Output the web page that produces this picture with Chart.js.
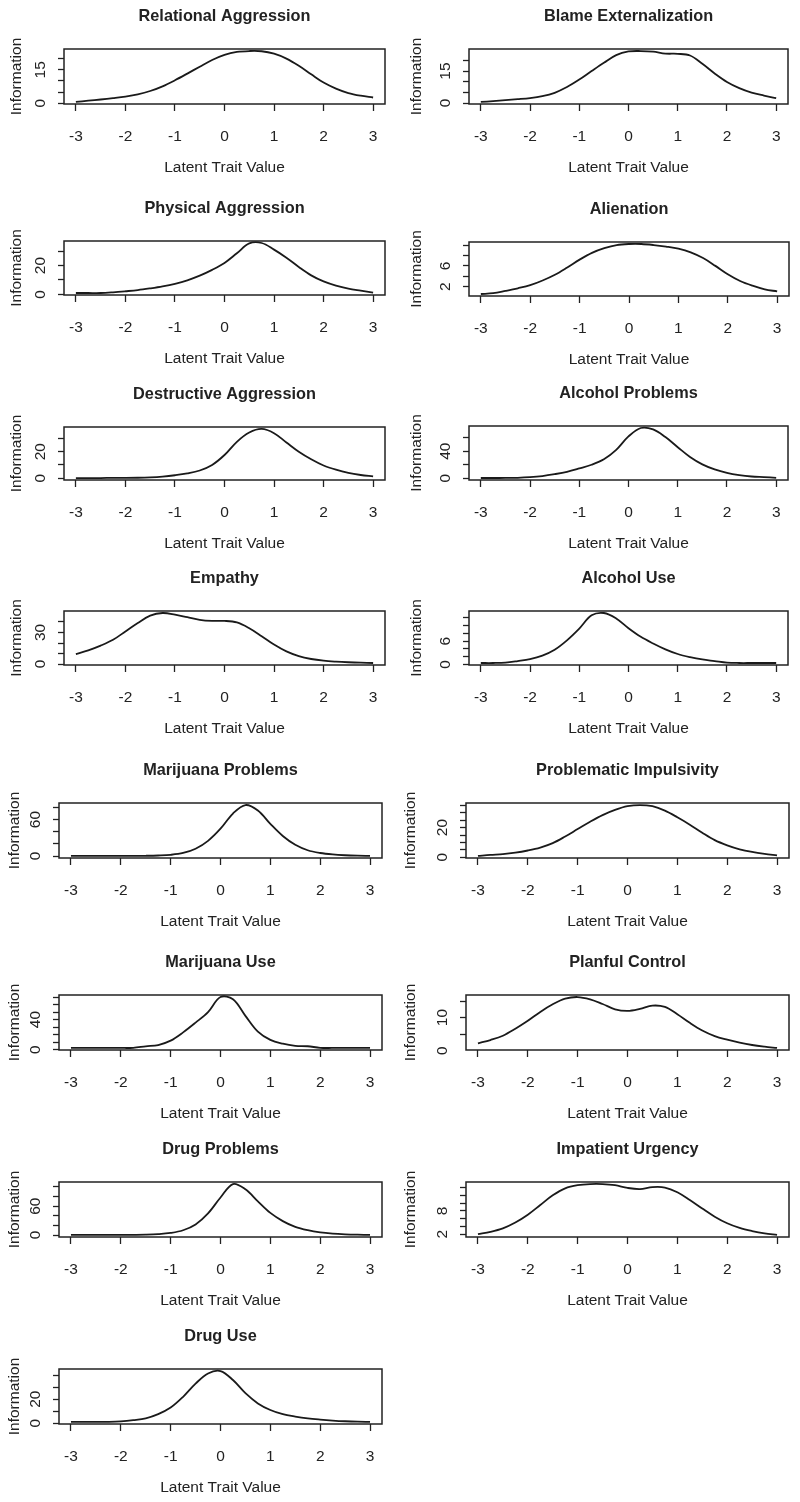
<!DOCTYPE html>
<html>
<head>
<meta charset="utf-8">
<script src="https://cdn.jsdelivr.net/npm/chart.js@4.4.1/dist/chart.umd.min.js"></script>
<style>
  body { margin: 0; background: #fff; }
  #page { position: relative; width: 800px; height: 1502px; overflow: hidden; background: #fff; }
  #page canvas { position: absolute; }
</style>
</head>
<body>
<div id="page"></div>
<script>
// latent trait grid (x) and x tick labels
const traitValues = [-3, -2.75, -2.5, -2.25, -2, -1.75, -1.5, -1.25, -1, -0.75, -0.5, -0.25, 0,
  0.25, 0.5, 0.75, 1, 1.25, 1.5, 1.75, 2, 2.25, 2.5, 2.75, 3];
const xTickValues = [-3, -2, -1, 0, 1, 2, 3];

const panelTitles = ['Relational Aggression', 'Blame Externalization', 'Physical Aggression', 'Alienation',
  'Destructive Aggression', 'Alcohol Problems', 'Empathy', 'Alcohol Use', 'Marijuana Problems',
  'Problematic Impulsivity', 'Marijuana Use', 'Planful Control', 'Drug Problems', 'Impatient Urgency', 'Drug Use'];

// information values
const relationalAggression = [0.6, 1.2, 1.7, 2.3, 3.0, 4.0, 5.5, 7.6, 10.3, 13.3, 16.4, 19.4, 21.7, 23.0, 23.4, 23.3, 22.2, 20.0, 16.8, 13.0, 9.3, 6.6, 4.6, 3.4, 2.6];
const blameExternalization = [0.5, 0.9, 1.4, 1.8, 2.3, 3.2, 4.8, 7.5, 11.0, 15.0, 18.9, 22.5, 24.2, 24.4, 24.1, 23.2, 23.1, 22.3, 18.4, 13.9, 9.9, 7.0, 4.9, 3.5, 2.3];
const physicalAggression = [1.0, 1.0, 1.0, 1.5, 2.2, 3.0, 4.2, 5.6, 7.4, 9.8, 13.0, 17.0, 21.8, 28.5, 35.3, 35.6, 31.0, 25.4, 19.0, 13.2, 9.0, 6.1, 4.0, 2.6, 1.3];
const alienation = [0.6, 0.75, 1.2, 1.7, 2.3, 3.2, 4.3, 5.7, 7.2, 8.5, 9.4, 10.0, 10.2, 10.2, 10.0, 9.7, 9.3, 8.6, 7.5, 6.0, 4.4, 3.1, 2.2, 1.5, 1.1];
const destructiveAggression = [0.1, 0.1, 0.1, 0.2, 0.2, 0.3, 0.6, 1.2, 2.2, 3.6, 5.8, 10.0, 17.5, 27.5, 34.5, 37.2, 34.0, 27.0, 20.0, 14.3, 9.6, 6.4, 4.0, 2.4, 1.3];
const alcoholProblems = [0.3, 0.3, 0.4, 0.6, 1.5, 3.2, 6.0, 9.5, 14.5, 20.0, 28.0, 42.0, 62.0, 74.5, 72.5, 61.0, 46.0, 31.5, 20.5, 13.0, 7.8, 4.5, 2.5, 1.6, 0.6];
const empathy = [9.5, 13.0, 17.5, 23.0, 31.0, 39.0, 46.0, 48.5, 47.0, 44.5, 42.0, 41.0, 41.0, 39.5, 34.0, 26.5, 18.5, 12.0, 7.5, 4.8, 3.2, 2.3, 1.7, 1.3, 1.0];
const alcoholUse = [0.4, 0.4, 0.5, 0.9, 1.4, 2.3, 3.8, 6.2, 9.2, 12.6, 13.2, 11.8, 9.3, 7.1, 5.4, 3.9, 2.7, 1.9, 1.3, 0.9, 0.5, 0.4, 0.4, 0.4, 0.4];
const marijuanaProblems = [0.1, 0.1, 0.1, 0.1, 0.1, 0.2, 0.4, 0.9, 2.0, 5.0, 12.0, 25.0, 45.0, 70.0, 84.0, 75.0, 53.0, 33.0, 18.5, 9.5, 5.0, 2.6, 1.3, 0.6, 0.3];
const problematicImpulsivity = [0.8, 1.5, 2.0, 3.0, 4.5, 6.5, 9.5, 14.0, 19.0, 24.0, 28.5, 32.0, 34.5, 35.3, 34.5, 31.5, 27.0, 22.0, 16.5, 11.5, 8.0, 5.3, 3.5, 2.2, 1.2];
const marijuanaUse = [2.3, 2.3, 2.3, 2.3, 2.3, 2.5, 4.5, 6.2, 12.0, 23.0, 36.0, 50.0, 70.0, 67.0, 45.0, 24.0, 13.0, 8.0, 5.2, 4.6, 2.5, 2.3, 2.3, 2.3, 2.3];
const planfulControl = [2.2, 3.2, 4.5, 6.6, 9.0, 11.7, 14.0, 15.7, 16.2, 15.5, 14.1, 12.5, 12.0, 12.6, 13.6, 13.2, 11.0, 8.4, 6.1, 4.4, 3.3, 2.4, 1.7, 1.2, 0.8];
const drugProblems = [0.2, 0.2, 0.2, 0.3, 0.3, 0.5, 0.9, 2.0, 4.5, 10.0, 22.0, 45.0, 78.0, 106.0, 95.0, 70.0, 46.0, 29.0, 17.0, 10.0, 5.5, 3.0, 1.6, 0.8, 0.4];
const impatientUrgency = [2.0, 2.6, 3.5, 5.0, 7.0, 9.5, 12.0, 13.8, 14.6, 14.9, 14.9, 14.6, 13.9, 13.6, 14.1, 14.0, 12.8, 10.8, 8.6, 6.5, 4.8, 3.6, 2.8, 2.2, 1.8];
const drugUse = [1.0, 1.0, 1.0, 1.1, 1.5, 2.5, 4.0, 7.5, 13.0, 22.0, 33.0, 41.5, 43.5, 36.0, 25.0, 16.5, 11.0, 7.5, 5.5, 4.0, 3.0, 2.2, 1.6, 1.2, 1.0];

const panelSeries = [relationalAggression, blameExternalization, physicalAggression, alienation,
  destructiveAggression, alcoholProblems, empathy, alcoholUse, marijuanaProblems,
  problematicImpulsivity, marijuanaUse, planfulControl, drugProblems, impatientUrgency, drugUse];

// y tick marks, and the ones R kept a label for
const yTickValues = [
  [0, 5, 10, 15, 20], [0, 5, 10, 15, 20], [0, 10, 20, 30], [2, 4, 6, 8, 10],
  [0, 10, 20, 30], [0, 20, 40, 60], [0, 10, 20, 30, 40], [0, 2, 4, 6, 8, 10, 12],
  [0, 20, 40, 60, 80], [0, 5, 10, 15, 20, 25, 30, 35], [0, 10, 20, 30, 40, 50, 60, 70], [0, 5, 10, 15],
  [0, 20, 40, 60, 80, 100], [2, 4, 6, 8, 10, 12, 14], [0, 10, 20, 30, 40]
];
const yTickLabels = [
  [0, 15], [0, 15], [0, 20], [2, 6], [0, 20], [0, 40], [0, 30], [0, 6],
  [0, 60], [0, 20], [0, 40], [0, 10], [0, 60], [2, 8], [0, 20]
];

// plot boxes on the page: left, top, right, bottom ; and x of the "Information" label
const plotBoxes = [
  [64, 49, 385, 104], [469, 49, 788, 104],
  [64, 241, 385, 295], [469, 242, 789, 296],
  [64, 427, 385, 480], [469, 426, 788, 480],
  [64, 611, 385, 665], [469, 611, 788, 665],
  [59, 803, 382, 858], [466, 803, 789, 858],
  [59, 995, 382, 1050], [466, 995, 789, 1050],
  [59, 1182, 382, 1237], [466, 1182, 789, 1237],
  [59, 1369, 382, 1424]
];
const infoLabelX = [16, 416, 16, 416, 16, 416, 16, 416, 14, 410, 14, 410, 14, 410, 14];

const FONT = "'Liberation Sans', Arial, Helvetica, sans-serif";
const INK = '#222';
const TOP_SPACE = 48;
const BOTTOM_SPACE = 73;

function rStyleFrame(title, labels) {
  return {
    id: 'rStyleFrame',
    afterDraw(chart) {
      const { ctx, chartArea: a } = chart;
      ctx.save();
      ctx.strokeStyle = INK;
      ctx.lineWidth = 1.5;
      ctx.strokeRect(a.left, a.top, a.right - a.left, a.bottom - a.top);

      ctx.fillStyle = INK;
      ctx.textAlign = 'center';
      ctx.textBaseline = 'middle';
      ctx.font = 'bold 16.3px ' + FONT;
      ctx.fillText(title, (a.left + a.right) / 2, a.top - 32);

      // y labels are drawn parallel to the axis, like R
      ctx.font = '15.5px ' + FONT;
      const ys = chart.scales.y;
      labels.forEach(v => {
        ctx.save();
        ctx.translate(a.left - 23, ys.getPixelForValue(v));
        ctx.rotate(-Math.PI / 2);
        ctx.fillText(String(v), 0, 0);
        ctx.restore();
      });
      ctx.restore();
    }
  };
}

const page = document.getElementById('page');
const xSpan = traitValues[traitValues.length - 1] - traitValues[0];
const xMin = traitValues[0] - 0.04 * xSpan;
const xMax = traitValues[traitValues.length - 1] + 0.04 * xSpan;

plotBoxes.forEach((box, i) => {
  const [left, top, right, bottom] = box;
  const col = left < 400 ? 0 : 400;
  const w = 400;
  const h = TOP_SPACE + (bottom - top) + BOTTOM_SPACE;
  const canvas = document.createElement('canvas');
  canvas.width = w;
  canvas.height = h;
  canvas.style.left = col + 'px';
  canvas.style.top = (top - TOP_SPACE) + 'px';
  canvas.style.width = w + 'px';
  canvas.style.height = h + 'px';
  page.appendChild(canvas);

  const values = panelSeries[i];
  const lo = Math.min(...values);
  const hi = Math.max(...values);
  const pad = 0.04 * (hi - lo);
  const yMin = lo - pad;
  const yMax = hi + pad;

  new Chart(canvas, {
    type: 'line',
    data: {
      datasets: [{
        data: traitValues.map((x, k) => ({ x: x, y: values[k] })),
        borderColor: '#1a1a1a',
        borderWidth: 1.8,
        pointRadius: 0,
        fill: false,
        tension: 0.35
      }]
    },
    options: {
      responsive: false,
      animation: false,
      devicePixelRatio: 1,
      layout: { padding: { left: 0, right: col + w - right, top: TOP_SPACE, bottom: 0 } },
      plugins: {
        legend: { display: false },
        tooltip: { enabled: false },
        title: { display: false }
      },
      scales: {
        x: {
          type: 'linear',
          min: xMin,
          max: xMax,
          afterBuildTicks: s => { s.ticks = xTickValues.map(v => ({ value: v })); },
          afterFit: s => { s.height = BOTTOM_SPACE; },
          grid: { display: true, drawOnChartArea: false, drawTicks: true, tickLength: 7, tickColor: INK, tickWidth: 1.3 },
          border: { display: false },
          ticks: { color: INK, font: { family: FONT, size: 15.5 }, padding: 16, maxRotation: 0, autoSkip: false },
          title: { display: true, text: 'Latent Trait Value', color: INK, font: { family: FONT, size: 15.5 }, padding: 0 }
        },
        y: {
          type: 'linear',
          min: yMin,
          max: yMax,
          afterBuildTicks: s => {
            s.ticks = yTickValues[i].filter(v => v >= yMin && v <= yMax).map(v => ({ value: v }));
          },
          afterFit: s => { s.width = left - col; },
          grid: { display: true, drawOnChartArea: false, drawTicks: true, tickLength: 6, tickColor: INK, tickWidth: 1.3 },
          border: { display: false },
          ticks: { display: false },
          title: {
            display: true, text: 'Information', color: INK, font: { family: FONT, size: 15.5 },
            padding: { top: infoLabelX[i] - col - 9, bottom: 0 }
          }
        }
      }
    },
    plugins: [rStyleFrame(panelTitles[i], yTickLabels[i])]
  });
});
</script>
</body>
</html>
